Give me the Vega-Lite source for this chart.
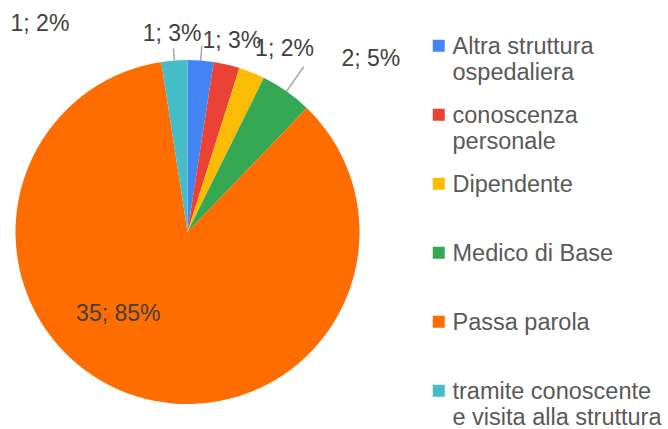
{
  "$schema": "https://vega.github.io/schema/vega-lite/v6.json",
  "width": 375,
  "height": 390,
  "autosize": "none",
  "padding": {"left": 0, "top": 37, "right": 293, "bottom": 2},
  "background": "white",
  "config": {"view": {"stroke": null}, "style": {"guide-label": {"lineHeight": 26, "dy": 8.5}}},
  "data": {
    "values": [
      {"category": "Altra struttura ospedaliera", "value": 1, "order": 1, "label": "1; 3%"},
      {"category": "conoscenza personale", "value": 1, "order": 2, "label": "1; 3%"},
      {"category": "Dipendente", "value": 1, "order": 3, "label": "1; 2%"},
      {"category": "Medico di Base", "value": 2, "order": 4, "label": "2; 5%"},
      {"category": "Passa parola", "value": 35, "order": 5, "label": "35; 85%"},
      {"category": "tramite conoscente e visita alla struttura", "value": 1, "order": 6, "label": "1; 2%"}
    ]
  },
  "encoding": {
    "theta": {"field": "value", "type": "quantitative", "stack": true},
    "order": {"field": "order", "type": "quantitative"}
  },
  "layer": [
    {
      "mark": {"type": "arc", "outerRadius": 172},
      "encoding": {
        "color": {
          "field": "category",
          "type": "nominal",
          "scale": {
            "domain": ["Altra struttura ospedaliera", "conoscenza personale", "Dipendente", "Medico di Base", "Passa parola", "tramite conoscente e visita alla struttura"],
            "range": ["#4285F4", "#EA4335", "#FBBC04", "#34A853", "#FF6D01", "#46BDC6"]
          },
          "legend": {
            "title": null,
            "orient": "none",
            "legendX": 427,
            "legendY": -3,
            "padding": 0,
            "gridAlign": "all",
            "rowPadding": 18,
            "symbolType": "square",
            "symbolSize": 144,
            "symbolStrokeWidth": 0,
            "labelFont": "Liberation Sans",
            "labelFontSize": 23.5,
            "labelColor": "#595959",
            "labelLimit": 400,
            "labelOffset": 2,
            "labelBaseline": "alphabetic",
            "labelExpr": "datum.label == 'Altra struttura ospedaliera' ? ['Altra struttura', 'ospedaliera'] : datum.label == 'conoscenza personale' ? ['conoscenza', 'personale'] : datum.label == 'tramite conoscente e visita alla struttura' ? ['tramite conoscente', 'e visita alla struttura'] : datum.label"
          }
        }
      }
    },
    {
      "mark": {"type": "arc", "innerRadius": 172, "outerRadius": 187, "padAngle": 1, "filled": false, "stroke": "#a6a6a6", "strokeWidth": 1.5},
      "encoding": {"opacity": {"condition": {"test": "datum.category === 'Altra struttura ospedaliera'", "value": 1}, "value": 0}}
    },
    {
      "mark": {"type": "arc", "innerRadius": 172, "outerRadius": 202, "padAngle": 1, "filled": false, "stroke": "#a6a6a6", "strokeWidth": 1.5},
      "encoding": {"opacity": {"condition": {"test": "datum.category === 'Medico di Base'", "value": 1}, "value": 0}}
    },
    {
      "mark": {"type": "arc", "innerRadius": 172, "outerRadius": 184, "padAngle": 1, "filled": false, "stroke": "#a6a6a6", "strokeWidth": 1.5},
      "encoding": {"opacity": {"condition": {"test": "datum.category === 'tramite conoscente e visita alla struttura'", "value": 1}, "value": 0}}
    },
    {
      "mark": {"type": "text", "radius": 190, "dx": -30, "dy": -9, "font": "Liberation Sans", "fontSize": 23, "fill": "#404040"},
      "encoding": {"text": {"condition": {"test": "datum.category === 'Altra struttura ospedaliera'", "field": "label"}, "value": ""}}
    },
    {
      "mark": {"type": "text", "radius": 190, "dx": 1, "dy": -6, "font": "Liberation Sans", "fontSize": 23, "fill": "#404040"},
      "encoding": {"text": {"condition": {"test": "datum.category === 'conoscenza personale'", "field": "label"}, "value": ""}}
    },
    {
      "mark": {"type": "text", "radius": 190, "dx": 26, "dy": -7, "font": "Liberation Sans", "fontSize": 23, "fill": "#404040"},
      "encoding": {"text": {"condition": {"test": "datum.category === 'Dipendente'", "field": "label"}, "value": ""}}
    },
    {
      "mark": {"type": "text", "radius": 190, "dx": 74, "dy": -18, "font": "Liberation Sans", "fontSize": 23, "fill": "#404040"},
      "encoding": {"text": {"condition": {"test": "datum.category === 'Medico di Base'", "field": "label"}, "value": ""}}
    },
    {
      "mark": {"type": "text", "radius": 110, "dx": -36, "dy": -23, "font": "Liberation Sans", "fontSize": 23, "fill": "#404040"},
      "encoding": {"text": {"condition": {"test": "datum.category === 'Passa parola'", "field": "label"}, "value": ""}}
    },
    {
      "mark": {"type": "text", "radius": 190, "dx": -133, "dy": -19, "font": "Liberation Sans", "fontSize": 23, "fill": "#404040"},
      "encoding": {"text": {"condition": {"test": "datum.category === 'tramite conoscente e visita alla struttura'", "field": "label"}, "value": ""}}
    }
  ]
}
